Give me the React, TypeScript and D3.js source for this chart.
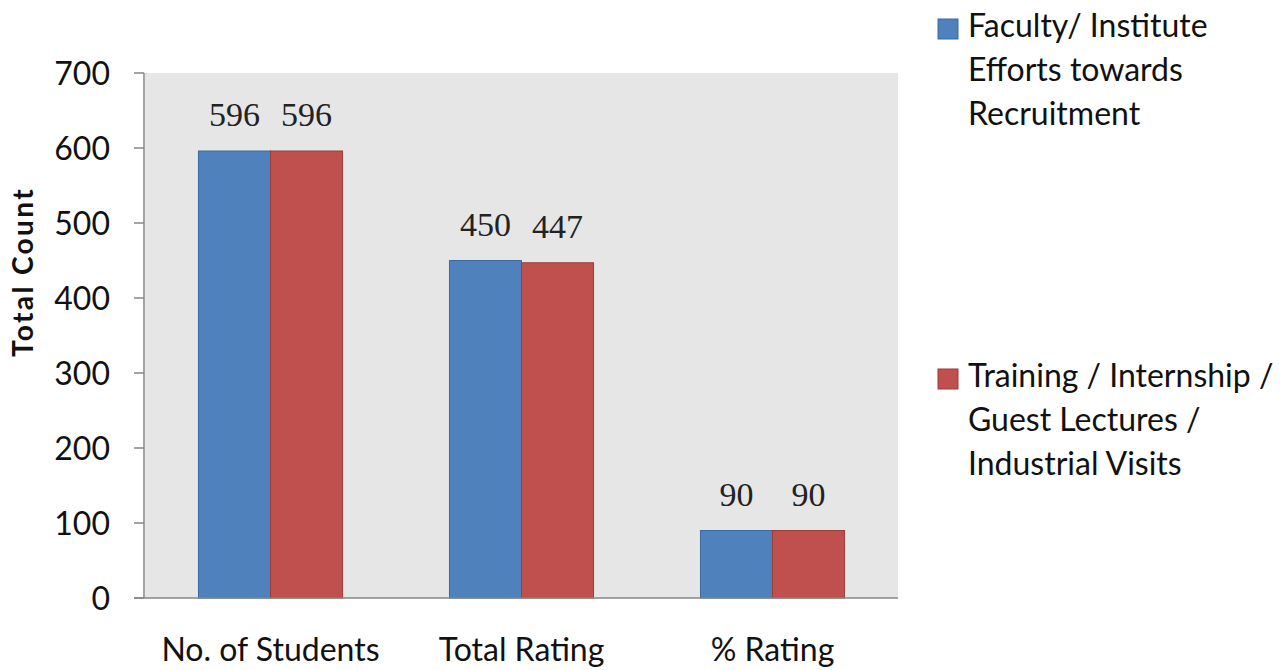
import React from "react";
import * as d3 from "d3";

const categories = ["No. of Students", "Total Rating", "% Rating"];
const seriesNames = ["Faculty/ Institute Efforts towards Recruitment", "Training / Internship / Guest Lectures / Industrial Visits"];
const legendLines = [
  ["Faculty/ Institute", "Efforts towards", "Recruitment"],
  ["Training / Internship /", "Guest Lectures /", "Industrial Visits"],
];
const facultyValues = [596, 450, 90];
const trainingValues = [596, 447, 90];
const yTicks = [0, 100, 200, 300, 400, 500, 600, 700];
const seriesColors = ["#4F81BD", "#C0504D"];
const seriesStrokes = ["#3A6A9F", "#9B3D3A"];

const W = 1287;
const H = 670;
const plot = { left: 145, right: 898, top: 73, bottom: 598 };
const sansFont = "Lato, 'Open Sans', sans-serif";

export default function App() {
  const x0 = d3
    .scaleBand<string>()
    .domain(categories)
    .range([plot.left, plot.right])
    .paddingInner(0.426)
    .paddingOuter(0.213);
  const x1 = d3.scaleBand<number>().domain([0, 1]).range([0, x0.bandwidth()]);
  const y = d3.scaleLinear().domain([0, 700]).range([plot.bottom, plot.top]);
  const series = [facultyValues, trainingValues];

  return (
    <svg width={W} height={H} style={{ position: "absolute", left: 0, top: 0, background: "#fff" }}>
      <rect x={plot.left} y={plot.top} width={plot.right - plot.left} height={plot.bottom - plot.top} fill="#E6E6E6" />
      {/* y axis */}
      <line x1={plot.left - 1} x2={plot.left - 1} y1={plot.top} y2={plot.bottom} stroke="#868686" strokeWidth={1.5} />
      {yTicks.map((t) => (
        <g key={t}>
          <line x1={plot.left - 11} x2={plot.left - 1} y1={y(t)} y2={y(t)} stroke="#868686" strokeWidth={1.5} />
          <text x={110} y={y(t) + 12} textAnchor="end" fontFamily={sansFont} fontSize={32} fill="#111">
            {t}
          </text>
        </g>
      ))}
      <text
        transform={`translate(33, 272) rotate(-90)`}
        textAnchor="middle"
        fontFamily={sansFont}
        fontWeight="bold"
        fontSize={28}
        letterSpacing={2.4}
        fill="#111"
      >
        Total Count
      </text>
      {/* bars */}
      {categories.map((c, ci) => (
        <g key={c}>
          {series.map((vals, si) => {
            const bx = (x0(c) as number) + (x1(si) as number);
            const by = y(vals[ci]);
            return (
              <g key={si}>
                <rect
                  x={bx}
                  y={by}
                  width={x1.bandwidth()}
                  height={plot.bottom - by}
                  fill={seriesColors[si]}
                  stroke={seriesStrokes[si]}
                  strokeWidth={1}
                />
                <text
                  x={bx + x1.bandwidth() / 2}
                  y={by - 25}
                  textAnchor="middle"
                  fontFamily="'Liberation Serif', 'Times New Roman', serif"
                  fontSize={34}
                  fill="#222"
                >
                  {vals[ci]}
                </text>
              </g>
            );
          })}
          <text
            x={(x0(c) as number) + x0.bandwidth() / 2}
            y={661}
            textAnchor="middle"
            fontFamily={sansFont}
            fontSize={32}
            fill="#111"
          >
            {c}
          </text>
        </g>
      ))}
      {/* x axis */}
      <line x1={plot.left - 11} x2={plot.right} y1={plot.bottom} y2={plot.bottom} stroke="#868686" strokeWidth={1.5} />
      {/* legend */}
      {seriesNames.map((name, si) => {
        const top = si === 0 ? 19 : 369;
        return (
          <g key={name}>
            <rect x={938} y={top} width={20} height={20} fill={seriesColors[si]} stroke={seriesStrokes[si]} strokeWidth={1} />
            {legendLines[si].map((ln, li) => (
              <text key={li} x={968} y={top + 18 + li * 44} fontFamily={sansFont} fontSize={32} fill="#111">
                {ln}
              </text>
            ))}
          </g>
        );
      })}
    </svg>
  );
}
